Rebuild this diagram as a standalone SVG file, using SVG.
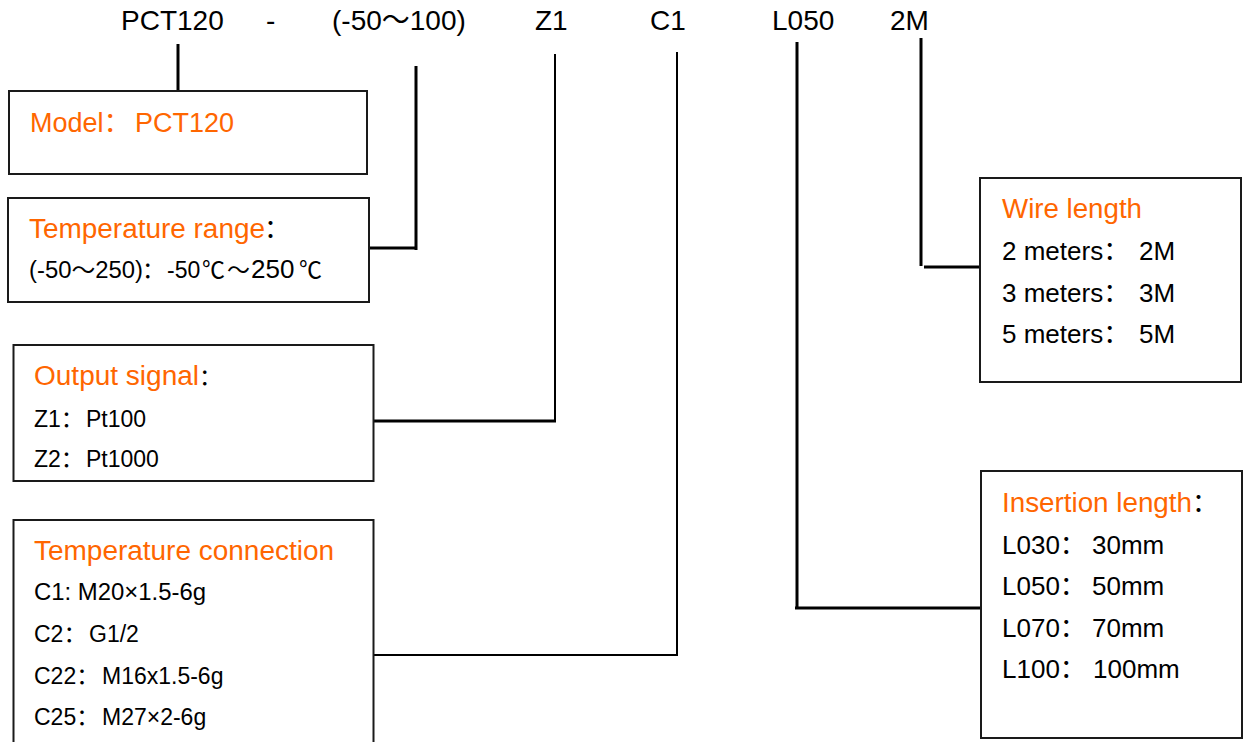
<svg xmlns="http://www.w3.org/2000/svg" width="1244" height="742" viewBox="0 0 1244 742">
<style>
text{font-family:"Liberation Sans","Noto Sans CJK SC",Arial,sans-serif;fill:#000}
.hd{font-size:28px}
.or{fill:#FF6600;font-size:27px}
.it{font-size:23px}
.ir{font-size:26px}
.box{fill:#fff;stroke:#1a1a1a;stroke-width:2}
.c3{fill:none;stroke:#000;stroke-width:3}
.c2{fill:none;stroke:#000;stroke-width:2}
</style>
<rect width="1244" height="742" fill="#fff"/>
<g id="header">
<text class="hd" x="121" y="30">PCT120</text>
<text class="hd" x="266" y="30">-</text>
<text class="hd" x="332" y="30">(-50～100)</text>
<text class="hd" x="535" y="30">Z1</text>
<text class="hd" x="650" y="30">C1</text>
<text class="hd" x="772" y="30">L050</text>
<text class="hd" x="890" y="30">2M</text>
</g>
<g id="connectors">
<path class="c3" d="M178,44 V91"/>
<path class="c3" d="M416,66 V250 M369,248 H417"/>
<path class="c2" d="M555,54 V422"/>
<path class="c3" d="M372,421 H556"/>
<path class="c2" d="M677,52 V656 M373,655 H678"/>
<path class="c3" d="M797,42 V609 M795,608 H981"/>
<path class="c3" d="M921,38 V266 M924,267 H980"/>
</g>
<g id="model">
<rect class="box" x="9" y="91" width="358" height="83"/>
<text class="or" x="30" y="132">Model：<tspan x="135">PCT120</tspan></text>
</g>
<g id="temperature-range">
<rect class="box" x="8" y="198" width="361" height="104"/>
<text class="or" x="29" y="238" textLength="236" lengthAdjust="spacingAndGlyphs">Temperature range</text>
<text class="ir" x="264" y="238">：</text>
<text x="29" y="278" style="font-size:23px"><tspan textLength="114" lengthAdjust="spacingAndGlyphs">(-50～250)</tspan><tspan x="142">：</tspan><tspan x="167">-50</tspan><tspan x="202">℃</tspan><tspan x="227">～</tspan><tspan x="251" style="font-size:26px">250</tspan><tspan x="299">℃</tspan></text>
</g>
<g id="output-signal">
<rect class="box" x="13.5" y="345" width="360" height="136"/>
<text class="or" x="34" y="385" textLength="165" lengthAdjust="spacingAndGlyphs">Output signal</text>
<text class="it" x="199" y="385">：</text>
<text class="it" x="34" y="427">Z1：<tspan x="86">Pt100</tspan></text>
<text class="it" x="34" y="467">Z2：<tspan x="86">Pt1000</tspan></text>
</g>
<g id="temperature-connection">
<rect class="box" x="13.5" y="520" width="360" height="240"/>
<text class="or" x="34" y="560" textLength="300" lengthAdjust="spacingAndGlyphs">Temperature connection</text>
<text class="it" x="34" y="600" textLength="172" lengthAdjust="spacingAndGlyphs">C1: M20×1.5-6g</text>
<text class="it" x="34" y="642">C2：<tspan x="89">G1/2</tspan></text>
<text class="it" x="34" y="684">C22：<tspan x="102">M16x1.5-6g</tspan></text>
<text class="it" x="34" y="725">C25：<tspan x="102">M27×2-6g</tspan></text>
</g>
<g id="wire-length">
<rect class="box" x="980" y="178" width="261" height="204"/>
<text class="or" x="1002" y="218" textLength="140" lengthAdjust="spacingAndGlyphs">Wire length</text>
<text class="ir" x="1002" y="260">2 meters：<tspan x="1139">2M</tspan></text>
<text class="ir" x="1002" y="302">3 meters：<tspan x="1139">3M</tspan></text>
<text class="ir" x="1002" y="343">5 meters：<tspan x="1139">5M</tspan></text>
</g>
<g id="insertion-length">
<rect class="box" x="981" y="471" width="261" height="267"/>
<text class="or" x="1002" y="512" textLength="190" lengthAdjust="spacingAndGlyphs">Insertion length</text>
<text class="ir" x="1192" y="512">：</text>
<text class="ir" x="1002" y="554">L030：<tspan x="1092">30mm</tspan></text>
<text class="ir" x="1002" y="595">L050：<tspan x="1092">50mm</tspan></text>
<text class="ir" x="1002" y="637">L070：<tspan x="1092">70mm</tspan></text>
<text class="ir" x="1002" y="678">L100：<tspan x="1093">100mm</tspan></text>
</g>
</svg>
